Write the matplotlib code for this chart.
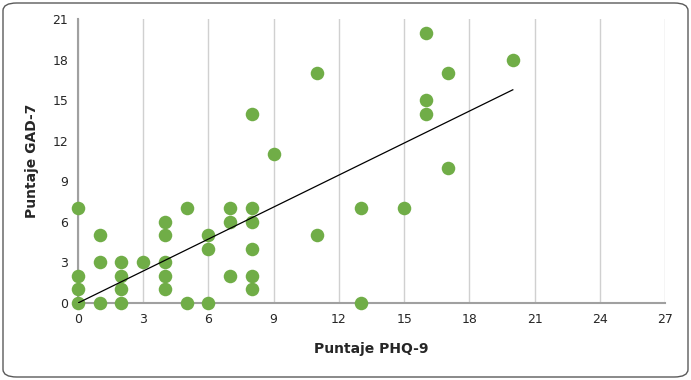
import matplotlib
matplotlib.use("Agg")
import matplotlib.pyplot as plt
import numpy as np
from matplotlib.patches import FancyBboxPatch

# PHQ-9 vs GAD-7 scores
phq9 = [0, 0, 0, 0, 1, 1, 1, 2, 2, 2, 2, 3, 4, 4, 4, 4, 4, 5, 5, 6, 6, 6,
        7, 7, 7, 8, 8, 8, 8, 8, 8, 9, 11, 11, 13, 13, 15, 16, 16, 16, 17, 17, 20]
gad7 = [0, 1, 2, 7, 0, 3, 5, 0, 1, 2, 3, 3, 1, 2, 3, 5, 6, 0, 7, 0, 4, 5,
        2, 6, 7, 1, 2, 4, 6, 7, 14, 11, 5, 17, 0, 7, 7, 14, 15, 20, 10, 17, 18]
x_ticks = [0, 3, 6, 9, 12, 15, 18, 21, 24, 27]
y_ticks = [0, 3, 6, 9, 12, 15, 18, 21]

x = np.array(phq9, dtype=float)
y = np.array(gad7, dtype=float)
# trendline forced through the origin
slope = (x * y).sum() / (x * x).sum()

fig = plt.figure(figsize=(6.91, 3.80), dpi=100)
ax = fig.add_axes([78/691, 77/380, 587/691, 284/380])

sc = ax.scatter(x, y, s=95, color="#70AD47", zorder=3, linewidths=0)
sc.set_clip_on(False)
xl = np.array([0, x.max()])
ax.plot(xl, slope*xl, color="black", lw=0.9, zorder=4)

ax.set_xlim(0, 27)
ax.set_ylim(0, 21)
ax.set_xticks(x_ticks)
ax.set_yticks(y_ticks)
ax.xaxis.grid(True, color="#d0d0d0", lw=1)
ax.set_axisbelow(True)
for s in ["top", "right"]:
    ax.spines[s].set_visible(False)
for s in ["left", "bottom"]:
    ax.spines[s].set_color("#a0a0a0")
    ax.spines[s].set_linewidth(1.5)
ax.tick_params(length=0, labelsize=9, colors="#262626", pad=7)
ax.set_xlabel("Puntaje PHQ-9", fontsize=10, color="#262626", labelpad=12, fontweight="bold")
ax.set_ylabel("Puntaje GAD-7", fontsize=10, color="#262626", labelpad=10, fontweight="bold")

border = FancyBboxPatch((3/691, 3/380), 685/691, 374/380,
                        boxstyle="round,pad=0,rounding_size=0.02",
                        transform=fig.transFigure, fill=False,
                        edgecolor="#5a5a5a", lw=1)
fig.patches.append(border)

fig.savefig("out.png", dpi=100)
